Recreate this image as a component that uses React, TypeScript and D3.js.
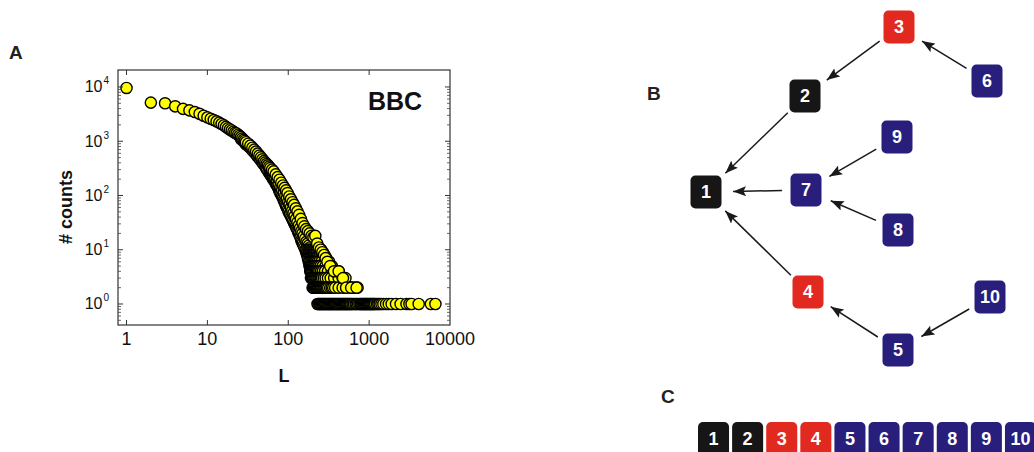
import { useEffect, useRef } from 'react';
import * as d3 from 'd3';

// Panel A: number of counts vs L (BBC).
// upper ridge of the cloud, one count per L
const ridge: [number, number][] = [
    [1, 9600], [2, 5150], [3, 5000], [4, 4400], [5, 3950], [6, 3700], [7, 3450], [8, 3200], [9, 2950], [10, 2750],
    [11, 2600], [12, 2460], [13, 2320], [14, 2200], [15, 2080], [16, 1960], [17, 1840], [18, 1730], [19, 1650], [20, 1580],
    [21, 1500], [22, 1430], [23, 1390], [24, 1320], [25, 1250], [26, 1190], [27, 1120], [28, 1060], [29, 1010], [30, 960],
    [32, 900], [34, 830], [36, 760], [38, 700], [40, 645], [42, 590], [44, 545], [46, 505], [48, 465], [50, 430],
    [52, 405], [54, 380], [56, 360], [58, 340], [60, 320], [63, 300], [66, 278], [70, 245], [74, 218], [78, 195],
    [82, 172], [86, 153], [90, 138], [94, 124], [98, 111], [103, 96], [108, 85], [113, 75], [118, 67], [124, 58],
    [130, 51], [136, 44], [143, 37], [150, 31], [158, 27], [166, 24], [175, 22], [184, 20], [194, 18], [205, 17],
    [216, 18], [228, 13], [240, 11], [252, 10], [264, 9], [277, 8], [290, 7], [305, 6], [330, 5], [368, 4],
    [420, 4], [475, 3], [520, 2], [600, 2], [700, 2],
];

// lower edge of the band
const bandLow: [number, number][] = [
    [26, 1100], [28, 1000], [30, 880], [31, 860], [33, 780], [35, 720], [37, 650], [39, 600], [41, 540], [43, 500],
    [45, 460], [47, 420], [49, 385], [51, 360], [53, 320], [55, 300], [57, 270], [59, 250], [61, 240], [62, 225],
    [64, 215], [65, 200], [67, 195], [68, 180], [70, 170], [71, 160], [73, 150], [75, 140], [77, 125], [79, 120],
    [80, 110], [82, 105], [84, 97], [86, 90], [88, 82], [90, 76], [92, 70], [94, 64], [96, 60], [99, 55],
    [101, 50], [104, 46], [106, 44], [109, 40], [112, 37], [115, 34], [118, 31], [121, 29], [124, 27], [127, 25],
    [130, 23], [133, 21], [136, 20], [139, 18], [142, 17], [145, 15], [148, 14], [151, 13], [155, 12], [159, 11],
    [163, 10], [167, 9], [171, 8], [175, 7], [179, 6], [183, 5], [187, 4], [191, 3],
];

// middle of the band
const bandMid: [number, number][] = [
    [60, 280], [63, 250], [66, 225], [69, 205], [72, 188], [76, 165], [80, 145], [84, 128], [88, 112], [92, 100],
    [96, 88], [100, 78], [104, 68], [108, 60], [112, 53], [116, 47], [120, 42], [125, 37], [130, 32], [135, 28],
    [140, 25], [145, 22], [150, 20], [156, 18], [162, 16], [168, 14], [174, 13], [180, 12], [186, 11], [192, 10],
    [198, 9], [204, 8], [210, 7], [217, 6], [224, 5], [232, 4],
];

// tail: L values that occur with the same small count
const tail10 = [168, 175, 182, 190, 199, 208, 220, 236, 255];
const tail9 = [172, 178, 185, 192, 200, 209, 220, 234, 250, 268];
const tail8 = [175, 181, 187, 194, 201, 209, 218, 230, 245, 262, 280];
const tail7 = [178, 184, 190, 196, 203, 210, 218, 228, 240, 256, 275, 295];
const tail6 = [182, 187, 193, 199, 205, 212, 220, 230, 242, 258, 280, 300, 320];
const tail5 = [186, 191, 196, 202, 208, 215, 222, 230, 240, 252, 268, 290, 320, 345];
const tail4 = [190, 195, 200, 206, 212, 219, 226, 234, 243, 255, 268, 285, 310, 345, 380, 420];
const tail3 = [196, 201, 206, 212, 218, 224, 230, 237, 244, 252, 262, 275, 290, 310, 335, 370, 420, 470, 510];
const tail2 = [
    200, 204, 208, 214, 220, 226, 232, 238, 245, 252, 259, 266, 274, 282, 290, 300, 312, 330, 345, 360,
    380, 420, 470, 520, 600, 660, 720,
];
const tail1 = [
    230, 236, 242, 248, 255, 262, 269, 276, 283, 290, 298, 306, 314, 322, 330, 339, 348, 357, 366, 376,
    386, 396, 406, 417, 428, 439, 451, 463, 475, 488, 501, 514, 528, 542, 556, 571, 586, 602, 625, 650,
    680, 700, 730, 760, 785, 803, 824, 846, 868, 891, 915, 939, 964, 990, 1016, 1043, 1071, 1100, 1130, 1160,
    1190, 1250, 1300, 1350, 1420, 1500, 1620, 1750, 1900, 2150, 2450, 2900, 3150, 3350, 4100, 5800, 6600,
];
const tailCounts = [10, 9, 8, 7, 6, 5, 4, 3, 2, 1];
const tailRows = [tail10, tail9, tail8, tail7, tail6, tail5, tail4, tail3, tail2, tail1];

const xTicks = [1, 10, 100, 1000, 10000];
const yTicks = [1, 10, 100, 1000, 10000];

// Panels B and C: the tree of nodes
const nodeIds = [1, 2, 3, 4, 5, 6, 7, 8, 9, 10];
const nodeKind = ['black', 'black', 'red', 'red', 'blue', 'blue', 'blue', 'blue', 'blue', 'blue'];
const edges: [number, number][] = [
    [3, 2], [6, 3], [2, 1], [9, 7], [7, 1], [8, 7], [4, 1], [5, 4], [10, 5],
];

// drawing layout of panel B (centres in px)
const nodePos: Record<number, [number, number]> = {
    1: [706, 192], 2: [805, 96], 3: [899, 27], 4: [808, 292], 5: [898, 350],
    6: [987, 81], 7: [806, 190], 8: [898, 230], 9: [897, 137], 10: [990, 297],
};

const kindColor: Record<string, string> = {
    black: '#161616',
    red: '#e2291f',
    blue: '#281e7c',
};

export default function App() {
    const ref = useRef<SVGSVGElement | null>(null);

    useEffect(() => {
        const svg = d3.select(ref.current);
        svg.selectAll('*').remove();
        const font = "'Liberation Sans', Arial, Helvetica, sans-serif";

        // === Panel A ===
        const left = 118, right = 450, top = 70, bottom = 325;
        const x = d3.scaleLog().domain([0.785, 10000]).range([left, right]);
        const y = d3.scaleLog().domain([0.41, 20560]).range([bottom, top]);

        const a = svg.append('g');

        // points: band first, then the small-count rows, then the ridge on top
        const band = [...bandLow, ...bandMid].sort((p, q) => p[0] - q[0]);
        const tail: [number, number][] = [];
        tailRows.forEach((row, i) => row.forEach((L) => tail.push([L, tailCounts[i]])));

        const drawDots = (data: [number, number][]) => {
            a.append('g')
                .selectAll('circle')
                .data(data)
                .enter()
                .append('circle')
                .attr('cx', (d) => x(d[0]))
                .attr('cy', (d) => y(d[1]))
                .attr('r', 5.6)
                .attr('fill', '#ffff00')
                .attr('stroke', '#000')
                .attr('stroke-width', 1.4);
        };
        drawDots(band);
        drawDots(tail);
        drawDots(ridge);

        // frame
        a.append('rect')
            .attr('x', left)
            .attr('y', top)
            .attr('width', right - left)
            .attr('height', bottom - top)
            .attr('fill', 'none')
            .attr('stroke', '#333')
            .attr('stroke-width', 1.2);

        // x ticks (inward, top and bottom)
        const xMajor = xTicks.filter((v) => x(v) < right - 1);
        xMajor.forEach((v) => {
            a.append('line').attr('x1', x(v)).attr('x2', x(v)).attr('y1', bottom).attr('y2', bottom - 5)
                .attr('stroke', '#333');
            a.append('line').attr('x1', x(v)).attr('x2', x(v)).attr('y1', top).attr('y2', top + 5)
                .attr('stroke', '#333');
        });

        // y ticks with minors (inward, left and right)
        const yMinor: number[] = [];
        [0.1, 1, 10, 100, 1000, 10000].forEach((d) => {
            for (let k = 2; k <= 9; k++) {
                const v = k * d;
                if (y(v) > top + 1 && y(v) < bottom - 1) yMinor.push(v);
            }
        });
        yTicks.forEach((v) => {
            a.append('line').attr('x1', left).attr('x2', left + 5).attr('y1', y(v)).attr('y2', y(v)).attr('stroke', '#333');
            a.append('line').attr('x1', right).attr('x2', right - 5).attr('y1', y(v)).attr('y2', y(v)).attr('stroke', '#333');
        });
        yMinor.forEach((v) => {
            a.append('line').attr('x1', left).attr('x2', left + 3).attr('y1', y(v)).attr('y2', y(v))
                .attr('stroke', '#444').attr('stroke-width', 0.8);
            a.append('line').attr('x1', right).attr('x2', right - 3).attr('y1', y(v)).attr('y2', y(v))
                .attr('stroke', '#444').attr('stroke-width', 0.8);
        });

        // tick labels
        a.selectAll('.xlab')
            .data(xTicks)
            .enter()
            .append('text')
            .attr('x', (d) => x(d))
            .attr('y', 345)
            .attr('text-anchor', 'middle')
            .attr('font-family', font)
            .attr('font-size', 18)
            .attr('fill', '#111')
            .text((d) => String(d));

        const yl = a.selectAll('.ylab')
            .data(yTicks)
            .enter()
            .append('text')
            .attr('x', 109)
            .attr('y', (d) => y(d) + 5.5)
            .attr('text-anchor', 'end')
            .attr('font-family', font)
            .attr('font-size', 16)
            .attr('fill', '#111');
        yl.append('tspan').text('10');
        yl.append('tspan')
            .attr('dx', 1)
            .attr('dy', -8)
            .attr('font-size', 10)
            .text((d) => String(Math.round(Math.log10(d))));

        // axis titles
        a.append('text')
            .attr('transform', 'translate(72,207) rotate(-90)')
            .attr('text-anchor', 'middle')
            .attr('font-family', font)
            .attr('font-weight', 'bold')
            .attr('font-size', 18)
            .attr('fill', '#111')
            .text('# counts');
        a.append('text')
            .attr('x', 284)
            .attr('y', 382)
            .attr('text-anchor', 'middle')
            .attr('font-family', font)
            .attr('font-weight', 'bold')
            .attr('font-size', 18)
            .attr('fill', '#111')
            .text('L');
        a.append('text')
            .attr('x', 368)
            .attr('y', 110)
            .attr('font-family', font)
            .attr('font-weight', 'bold')
            .attr('font-size', 25)
            .attr('fill', '#111')
            .text('BBC');

        // panel letters
        const letters: [string, number, number][] = [['A', 9, 59], ['B', 647, 100], ['C', 661, 403]];
        letters.forEach(([t, lx, ly]) => {
            svg.append('text')
                .attr('x', lx)
                .attr('y', ly)
                .attr('font-family', font)
                .attr('font-weight', 'bold')
                .attr('font-size', 19)
                .attr('fill', '#222')
                .text(t);
        });

        // === Panel B ===
        const defs = svg.append('defs');
        defs.append('marker')
            .attr('id', 'arrowhead')
            .attr('viewBox', '0 0 13 10')
            .attr('refX', 13)
            .attr('refY', 5)
            .attr('markerWidth', 13)
            .attr('markerHeight', 10)
            .attr('markerUnits', 'userSpaceOnUse')
            .attr('orient', 'auto')
            .append('path')
            .attr('d', 'M0,0 L13,5 L0,10 L2.5,5 Z')
            .attr('fill', '#1a1a1a');

        const b = svg.append('g');
        edges.forEach(([s, t]) => {
            const [sx, sy] = nodePos[s];
            const [tx, ty] = nodePos[t];
            const len = Math.hypot(tx - sx, ty - sy);
            const ux = (tx - sx) / len, uy = (ty - sy) / len;
            b.append('line')
                .attr('x1', sx + ux * 24)
                .attr('y1', sy + uy * 24)
                .attr('x2', tx - ux * 27)
                .attr('y2', ty - uy * 27)
                .attr('stroke', '#1a1a1a')
                .attr('stroke-width', 1.5)
                .attr('marker-end', 'url(#arrowhead)');
        });

        const bw = 31, bh = 33;
        const nodes = b.selectAll('.node')
            .data(nodeIds)
            .enter()
            .append('g')
            .attr('transform', (d) => `translate(${nodePos[d][0]},${nodePos[d][1]})`);
        nodes.append('rect')
            .attr('x', -bw / 2)
            .attr('y', -bh / 2)
            .attr('width', bw)
            .attr('height', bh)
            .attr('rx', 5)
            .attr('fill', (d, i) => kindColor[nodeKind[i]]);
        nodes.append('text')
            .attr('text-anchor', 'middle')
            .attr('dy', '0.36em')
            .attr('font-family', font)
            .attr('font-weight', 'bold')
            .attr('font-size', 18)
            .attr('fill', '#fff')
            .text((d) => String(d));

        // === Panel C ===
        const band10 = d3.scaleBand<number>().domain(nodeIds).range([698, 1036]).paddingInner(0.09);
        const c = svg.append('g');
        const cells = c.selectAll('.cell')
            .data(nodeIds)
            .enter()
            .append('g')
            .attr('transform', (d) => `translate(${band10(d)},422)`);
        cells.append('rect')
            .attr('width', band10.bandwidth())
            .attr('height', 34)
            .attr('rx', 5)
            .attr('fill', (d, i) => kindColor[nodeKind[i]]);
        cells.append('text')
            .attr('x', band10.bandwidth() / 2)
            .attr('y', 23)
            .attr('text-anchor', 'middle')
            .attr('font-family', font)
            .attr('font-weight', 'bold')
            .attr('font-size', 18)
            .attr('fill', '#fff')
            .text((d) => String(d));
    }, []);

    return (
        <svg
            ref={ref}
            width={1034}
            height={452}
            style={{ position: 'absolute', left: 0, top: 0, background: '#fff' }}
        />
    );
}
